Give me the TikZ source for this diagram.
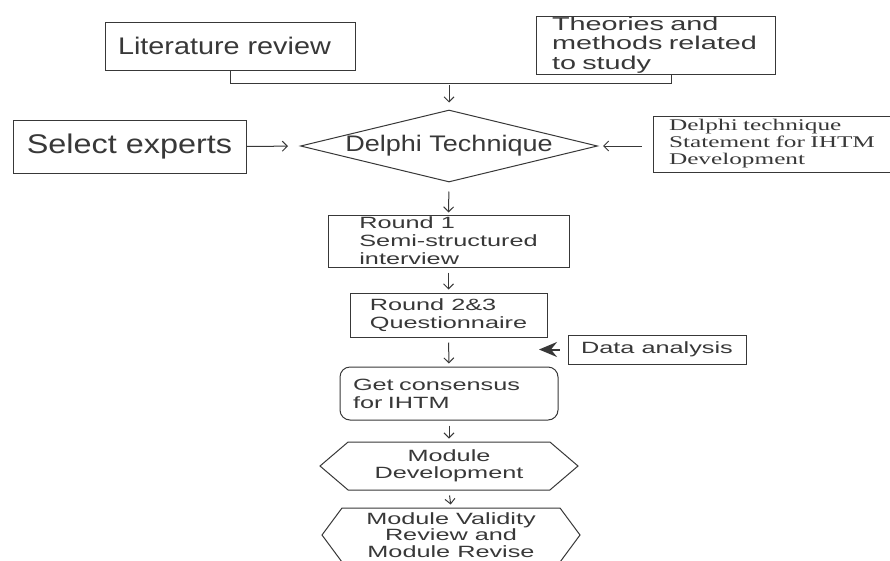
\documentclass[tikz,border=0pt]{standalone}
\usepackage{fontspec}
\newfontfamily\widesans[FakeStretch=1.55]{Liberation Sans}
\newfontfamily\bigsans[FakeStretch=1.2]{Liberation Sans}
\newfontfamily\wideserif[FakeStretch=1.55]{Liberation Serif}
\usepackage{tikz}
\usetikzlibrary{arrows.meta,shapes.geometric,shapes.symbols,calc}
\colorlet{ink}{black!78}

\begin{document}
\begin{tikzpicture}[x=1pt,y=-1pt,
  every node/.style={text=ink},
  box/.style={draw=ink, line width=1pt, rectangle, inner sep=0pt, align=left,
    font=\widesans\fontsize{16.3}{18}\selectfont},
  bigbox/.style={box, font=\bigsans\fontsize{24}{28}\selectfont},
  decision/.style={draw=ink, line width=1pt, diamond, aspect=4.1, inner sep=0pt,
    font=\bigsans\fontsize{22.5}{26}\selectfont},
  hexbox/.style={draw=ink, line width=1pt, signal, signal to=west and east,
    inner sep=0pt, align=center, font=\widesans\fontsize{16.3}{17.5}\selectfont},
  link/.style={draw=ink, line width=1pt},
  arr/.style={link, -{Straight Barb[length=5pt,width=10pt]}, shorten <=5pt, shorten >=3pt}]
\fill[white] (0,0) rectangle (890,560);
\useasboundingbox (0,0) rectangle (890,560);
\clip (0,0) rectangle (890,560);

\node[bigbox, text width=224pt, inner xsep=13pt, minimum height=48pt] (lit) at (230,46) {Literature review};
\node[box, font=\widesans\fontsize{18.6}{19.5}\selectfont, text width=207pt, inner xsep=16pt, minimum height=58pt] (theo) at (655.5,45) {Theories and\\methods related\\to study};
\node[bigbox, font=\bigsans\fontsize{27}{30}\selectfont, align=center, minimum width=233pt, minimum height=53pt] (sel) at (129.5,146.5) {Select experts};
\node[decision, minimum width=297pt, minimum height=72pt] (delphi) at (449,146) {Delphi Technique};
\node[box, font=\wideserif\fontsize{16.3}{17}\selectfont, text width=208pt, inner xsep=16pt, minimum height=56pt] (stmt) at (773,144) {Delphi technique\\Statement for IHTM\\Development};
\node[box, minimum width=241pt, minimum height=52pt] (r1) at (448.5,241) {Round 1\\Semi-structured\\interview};
\node[box, minimum width=197pt, minimum height=44pt] (r23) at (448.5,315) {Round 2\&3\\Questionnaire};
\node[box, minimum width=178pt, minimum height=29pt] (data) at (657,349.5) {Data analysis};
\node[box, rounded corners=10pt, text width=192pt, inner xsep=13pt, minimum height=53pt] (cons) at (449,393.5) {Get consensus\\for IHTM};
\node[hexbox, minimum width=258pt, minimum height=48pt, signal pointer angle=81] (dev) at (449,466) {Module\\Development};
\node[hexbox, font=\widesans\fontsize{16.3}{16.3}\selectfont, minimum width=258pt, minimum height=54pt, signal pointer angle=107] (val) at (451,535) {Module Validity\\Review and\\Module Revise};

\coordinate (merge) at (449,83);
\coordinate (theojoin) at ([xshift=15.5pt]theo.south);
\coordinate (datatip) at (539,349.5);

\draw[link] (lit.south) |- (theojoin |- merge) -- (theojoin);
\draw[arr, shorten <=2pt, shorten >=7pt] (merge) -- (delphi.north);
\draw[arr, shorten <=0pt, shorten >=12pt] (sel.east) -- (delphi.west);
\draw[arr, shorten <=11pt, shorten >=5pt] (stmt.west |- delphi.east) -- (delphi.east);
\draw[arr, shorten <=9pt, shorten >=2pt] (delphi.south) -- (r1.north);
\foreach \a/\b in {r1/r23, r23/cons, cons/dev, dev/val}
  \draw[arr] (\a.south) -- (\b.north);
\draw[link, line width=2pt, -{Stealth[length=18pt,width=15pt,inset=6pt]}, shorten <=8pt] (data.west) -- (datatip);
\end{tikzpicture}
\end{document}
